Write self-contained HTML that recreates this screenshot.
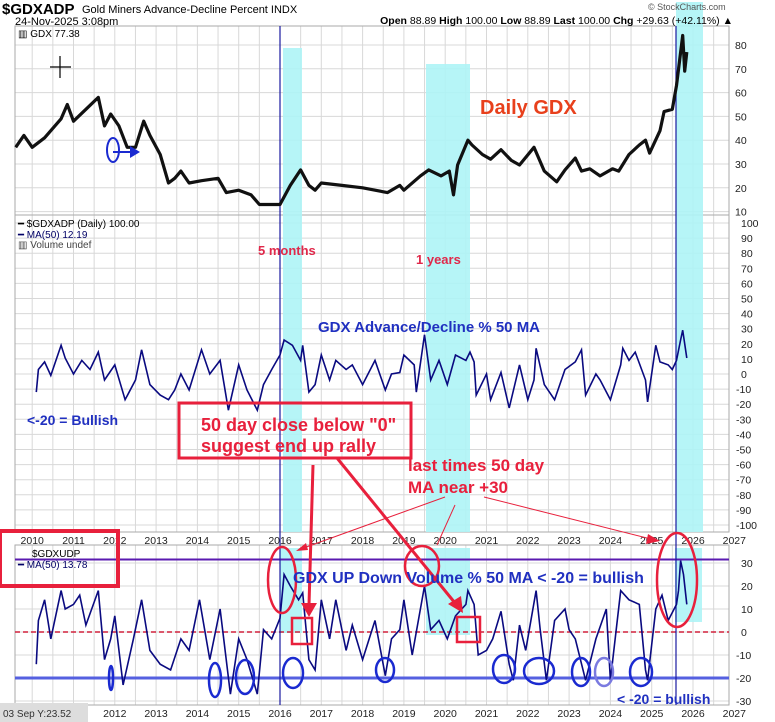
<!DOCTYPE html>
<html><head><meta charset="utf-8">
<style>
body{margin:0;background:#fff;font-family:"Liberation Sans",sans-serif;}
svg{display:block}
</style></head>
<body>
<svg id="c" width="775" height="722" viewBox="0 0 775 722" xmlns="http://www.w3.org/2000/svg">
<rect x="0" y="0" width="775" height="722" fill="#fff"/>
<g id="grid"></g>
<g id="bands"></g>
<g id="series"></g>
<g id="axes" font-family="Liberation Sans, sans-serif" font-size="10.5" fill="#222"></g>
<!-- header -->
<text x="2" y="14" font-size="15" font-weight="bold">$GDXADP</text>
<text x="82" y="13" font-size="11">Gold Miners Advance-Decline Percent INDX</text>
<text x="15" y="25" font-size="11">24-Nov-2025 3:08pm</text>
<text x="733" y="24" font-size="10.5" text-anchor="end"><tspan font-weight="bold">Open</tspan> 88.89 <tspan font-weight="bold">High</tspan> 100.00 <tspan font-weight="bold">Low</tspan> 88.89 <tspan font-weight="bold">Last</tspan> 100.00 <tspan font-weight="bold">Chg</tspan> +29.63 (+42.11%) ▲</text>
<text x="648" y="10" font-size="9" fill="#555">© StockCharts.com</text>
<!-- legends -->
<text x="18" y="37" font-size="10">▥ GDX 77.38</text>
<text x="18" y="227" font-size="10">━ $GDXADP (Daily) 100.00</text>
<text x="18" y="238" font-size="10" fill="#000066">━ MA(50) 12.19</text>
<text x="18" y="248" font-size="10" fill="#444">▥ Volume undef</text>
<text x="32" y="557" font-size="10">$GDXUDP</text>
<text x="18" y="568" font-size="10" fill="#000066">━ MA(50) 13.78</text>
<rect x="0" y="703" width="88" height="19" fill="#ddd"/>
<text x="3" y="717" font-size="10" fill="#333">03 Sep Y:23.52</text>
<!-- annotations -->
<g id="ann" font-family="Liberation Sans, sans-serif" font-weight="bold">
<line x1="50" y1="67" x2="71" y2="67" stroke="#000" stroke-width="1.2"/>
<line x1="60" y1="56" x2="60" y2="78" stroke="#000" stroke-width="1.2"/>
<ellipse cx="113" cy="150" rx="6" ry="12" fill="none" stroke="#1a2ad0" stroke-width="2"/>
<line x1="113" y1="152" x2="132" y2="152" stroke="#1a2ad0" stroke-width="2"/>
<polygon points="130,146 140,152 130,158" fill="#1a2ad0"/>
<text x="480" y="114" font-size="20" fill="#e8401c">Daily GDX</text>
<text x="258" y="255" font-size="13" fill="#e0284a">5 months</text>
<text x="416" y="264" font-size="13" fill="#e0284a">1 years</text>
<text x="318" y="332" font-size="15" fill="#2030c0">GDX Advance/Decline % 50 MA</text>
<text x="27" y="425" font-size="14" fill="#2030c0">&lt;-20 = Bullish</text>
<rect x="179" y="403" width="232" height="55" fill="none" stroke="#e8203c" stroke-width="3"/>
<text x="201" y="431" font-size="18" fill="#e8203c">50 day close below "0"</text>
<text x="201" y="452" font-size="18" fill="#e8203c">suggest end up rally</text>
<text x="408" y="471" font-size="17" fill="#e8203c">last times 50 day</text>
<text x="408" y="493" font-size="17" fill="#e8203c">MA near +30</text>
<line x1="445" y1="497" x2="298" y2="550" stroke="#e8203c" stroke-width="1"/>
<polygon points="296,551 306,543 308,550" fill="#e8203c"/>
<line x1="455" y1="505" x2="437" y2="545" stroke="#e8203c" stroke-width="1"/>
<line x1="484" y1="497" x2="655" y2="540" stroke="#e8203c" stroke-width="1"/>
<polygon points="660,541 648,534 646,544" fill="#e8203c"/>
<line x1="313" y1="465" x2="309" y2="605" stroke="#e8203c" stroke-width="3"/>
<polygon points="301,603 317,603 309,617" fill="#e8203c"/>
<line x1="337" y1="458" x2="455" y2="603" stroke="#e8203c" stroke-width="3"/>
<polygon points="448,604 461,596 463,613" fill="#e8203c"/>
<rect x="0" y="531" width="118" height="55" fill="none" stroke="#e8203c" stroke-width="4"/>
<ellipse cx="282" cy="580" rx="14" ry="33" fill="none" stroke="#e8203c" stroke-width="2.5"/>
<ellipse cx="422" cy="566" rx="17" ry="20" fill="none" stroke="#e8203c" stroke-width="2.5"/>
<ellipse cx="677" cy="580" rx="20" ry="47" fill="none" stroke="#e8203c" stroke-width="2.5"/>
<rect x="292" y="618" width="20" height="26" fill="none" stroke="#e8203c" stroke-width="2.5"/>
<rect x="457" y="617" width="23" height="25" fill="none" stroke="#e8203c" stroke-width="2.5"/>
<text x="293" y="583" font-size="16" fill="#2030c0">GDX UP Down Volume % 50 MA &lt; -20 = bullish</text>
<text x="617" y="704" font-size="14" fill="#2030c0">&lt; -20 = bullish</text>
<g fill="none" stroke="#1a2ad0" stroke-width="2.5">
<ellipse cx="111" cy="678" rx="2" ry="12"/>
<ellipse cx="215" cy="680" rx="6" ry="17"/>
<ellipse cx="245" cy="677" rx="9" ry="17"/>
<ellipse cx="293" cy="673" rx="10" ry="15"/>
<ellipse cx="385" cy="670" rx="9" ry="12"/>
<ellipse cx="504" cy="669" rx="11" ry="14"/>
<ellipse cx="539" cy="671" rx="15" ry="13"/>
<ellipse cx="581" cy="672" rx="9" ry="14"/>
<ellipse cx="604" cy="672" rx="9" ry="14" stroke="#7a7ae0"/>
<ellipse cx="641" cy="672" rx="11" ry="14"/>
</g>
</g>
</svg>
<script>
// ---- data ----
const gdxDates=[2009.6,2009.8,2010.0,2010.3,2010.7,2010.85,2011.0,2011.3,2011.6,2011.75,2011.9,2012.1,2012.3,2012.5,2012.7,2012.85,2013.1,2013.3,2013.45,2013.6,2013.8,2014.1,2014.5,2014.7,2015.0,2015.3,2015.5,2015.8,2016.0,2016.25,2016.5,2016.7,2016.85,2017.0,2017.5,2018.0,2018.6,2018.9,2019.0,2019.4,2019.6,2019.9,2020.1,2020.2,2020.3,2020.55,2020.65,2020.9,2021.1,2021.35,2021.6,2021.8,2022.15,2022.4,2022.7,2022.9,2023.15,2023.3,2023.5,2023.75,2024.05,2024.2,2024.45,2024.7,2024.85,2024.95,2025.2,2025.3,2025.5,2025.6,2025.75,2025.8,2025.85];
const gdxValues=[37,42,37,41,49,55,48,53,58,46,51,46,37,37,48,42,34,22,24,27,22,23,24,18,19,17,13,13,13,21,27.5,21,19,22,21,20,18,21,19,25,27.5,25,27,17,29.6,40,38,34,32,36,31.5,29.6,37,27,22.5,27.5,32.5,27,28,25,28,27,34,38,40,34.6,44,52,53,63,84,69,77];
const adpDates=[2010.1,2010.15,2010.3,2010.45,2010.7,2010.8,2011.0,2011.2,2011.4,2011.6,2011.75,2012.0,2012.25,2012.5,2012.65,2012.85,2013.1,2013.3,2013.45,2013.6,2013.8,2014.1,2014.3,2014.55,2014.75,2015.0,2015.2,2015.45,2015.6,2015.8,2016.0,2016.1,2016.3,2016.5,2016.55,2016.7,2016.85,2017.0,2017.2,2017.35,2017.6,2017.75,2018.0,2018.3,2018.55,2018.7,2018.9,2019.0,2019.25,2019.3,2019.5,2019.65,2019.85,2020.05,2020.25,2020.5,2020.6,2020.7,2020.75,2021.0,2021.1,2021.35,2021.55,2021.8,2022.0,2022.15,2022.2,2022.4,2022.65,2022.9,2023.15,2023.3,2023.4,2023.65,2023.75,2024.0,2024.25,2024.3,2024.45,2024.6,2024.85,2024.9,2025.1,2025.2,2025.4,2025.5,2025.6,2025.7,2025.75,2025.85];
const adpValues=[-12,3,8,-1,19,10.5,0,9,3,14.5,-4,6,-17,-4,16,-7,-14,-17,-10.6,0,-10.6,16,0,9,-24,6,-10.6,-24,-7,3,12.6,22.5,19,9,19,-12,-7,12.6,-4,9,3,6,-7,9,-10.6,0,1,12.6,6,-12,26,-4,9,-7,12.6,9,14.5,8,-14,0,-17,1,-22.5,6,-17,-4,17,-7,-17,3,8,16,-14,0,-4,-17,6,17,9,14.5,-4,-18.5,19,8,6,3,9,22.5,29,10.6];
const udpDates=[2010.1,2010.15,2010.3,2010.45,2010.7,2010.8,2011.0,2011.15,2011.3,2011.6,2011.75,2011.9,2012.0,2012.2,2012.45,2012.65,2012.85,2013.1,2013.35,2013.6,2013.8,2014.05,2014.3,2014.55,2014.8,2015.0,2015.2,2015.45,2015.6,2015.8,2016.0,2016.1,2016.25,2016.45,2016.55,2016.7,2016.85,2017.0,2017.2,2017.35,2017.6,2017.75,2018.0,2018.3,2018.55,2018.7,2018.9,2019.0,2019.2,2019.5,2019.65,2019.85,2020.05,2020.25,2020.5,2020.55,2020.7,2020.8,2021.0,2021.15,2021.35,2021.55,2021.65,2021.8,2021.95,2022.2,2022.3,2022.45,2022.65,2022.9,2023.0,2023.15,2023.4,2023.65,2023.9,2024.0,2024.25,2024.45,2024.7,2024.85,2024.9,2025.1,2025.25,2025.4,2025.6,2025.65,2025.7,2025.77,2025.85];
const udpValues=[-14,5,14,-3,18,10,12,16,3,18,-12,-3,7,-23,-3,14,-8,-14,-16.5,-3,-8,14,-12,10,-27,-3,-12,-27,1,-3,6,25,20,14,17,-12,-16.5,14,-3,14,-8,3,-12,5,-19,-3,1,14,-10,20,1,5,-3,7,12,18,12,-10,-8,-3,9,-14,-21,3,-8,18,1,-21,5,10,1,-3,-21,-3,10,-21,18,14,12,-16.5,-21,10,16,5,12,18,31,25,12];
const yearLabels=[2010,2011,2012,2013,2014,2015,2016,2017,2018,2019,2020,2021,2022,2023,2024,2025,2026,2027];
const gdxTicks=[80,70,60,50,40,30,20,10];
const adpTicks=[100,90,80,70,60,50,40,30,20,10,0,-10,-20,-30,-40,-50,-60,-70,-80,-90,-100];
const udpTicks=[30,20,10,0,-10,-20,-30];

// ---- scales ----
const L=15,R=729;
const X=y=>280+(y-2016)*41.3;
const Y1=v=>45+(80-v)*2.38;
const Y2=v=>374-v*1.51;
const Y3=v=>632-v*2.3;
const NS="http://www.w3.org/2000/svg";
function mk(parent,tag,attrs){const e=document.createElementNS(NS,tag);for(const k in attrs)e.setAttribute(k,attrs[k]);document.getElementById(parent).appendChild(e);return e;}

const panels=[{t:26,b:215},{t:215,b:532},{t:545,b:705}];
for(let y=2009.5;y<=2027;y+=0.5){const x=X(y);if(x<L||x>R)continue;
 for(const p of panels){const g=mk('grid','line',{x1:x,x2:x,y1:p.t,y2:p.b,stroke:'#d8d8d8','stroke-width':1});
 
 }}
gdxTicks.forEach(v=>{const g=mk('grid','line',{x1:L,x2:R,y1:Y1(v),y2:Y1(v),stroke:'#d8d8d8'});
 
 
 const t=mk('axes','text',{x:735,y:Y1(v)+4});t.textContent=v;
 
 });
adpTicks.forEach(v=>{const g=mk('grid','line',{x1:L,x2:R,y1:Y2(v),y2:Y2(v),stroke:'#d8d8d8'});
 
 
 const t=mk('axes','text',{x:v>=0?741:736,y:Y2(v)+4});t.textContent=v;
 
 });
udpTicks.forEach(v=>{const g=mk('grid','line',{x1:L,x2:R,y1:Y3(v),y2:Y3(v),stroke:'#d8d8d8'});
 
 
 const t=mk('axes','text',{x:v>=0?741:736,y:Y3(v)+4});t.textContent=v;
 
 });
panels.forEach(p=>{const r=mk('grid','rect',{x:L,y:p.t,width:R-L,height:p.b-p.t,fill:'none',stroke:'#aaa'});
 
 });
yearLabels.forEach(y=>{const t=mk('axes','text',{x:X(y),y:544,'text-anchor':'middle'});t.textContent=y;
 
 
 if(y>=2012){const b=mk('axes','text',{x:X(y),y:717,'text-anchor':'middle'});b.textContent=y;
 
 }});
[[283,302,48,532],[426,470,64,532],[676,703,2,532],[280,302,548,633],[426,470,548,635],[675,702,548,622]].forEach(b=>{
 const r=mk('bands','rect',{x:b[0],y:b[2],width:b[1]-b[0],height:b[3]-b[2],fill:'#aef4f6',opacity:0.9});
 
 });
let l=mk('bands','line',{x1:L,x2:R,y1:Y3(31.5),y2:Y3(31.5),stroke:'#5a1ab0','stroke-width':2});


l=mk('bands','line',{x1:L,x2:R,y1:Y3(-20),y2:Y3(-20),stroke:'#5560e0','stroke-width':3});


l=mk('bands','line',{x1:L,x2:R,y1:Y3(0),y2:Y3(0),stroke:'#d0203c','stroke-width':1.5,'stroke-dasharray':'5,3'});


[280,676].forEach(x=>{const v=mk('bands','line',{x1:x,x2:x,y1:26,y2:705,stroke:'#1a1aa0','stroke-width':1.2});
 
 });
function path(dates,vals,Y){return dates.map((d,i)=>(i?'L':'M')+X(d).toFixed(1)+','+Y(vals[i]).toFixed(1)).join('');}
let p=mk('series','path',{d:path(gdxDates,gdxValues,Y1),fill:'none',stroke:'#111','stroke-width':3.2,'stroke-linejoin':'round'});


p=mk('series','path',{d:path(adpDates,adpValues,Y2),fill:'none',stroke:'#0a0a80','stroke-width':1.6});


p=mk('series','path',{d:path(udpDates,udpValues,Y3),fill:'none',stroke:'#0a0a80','stroke-width':1.6});


</script>
</body></html>
